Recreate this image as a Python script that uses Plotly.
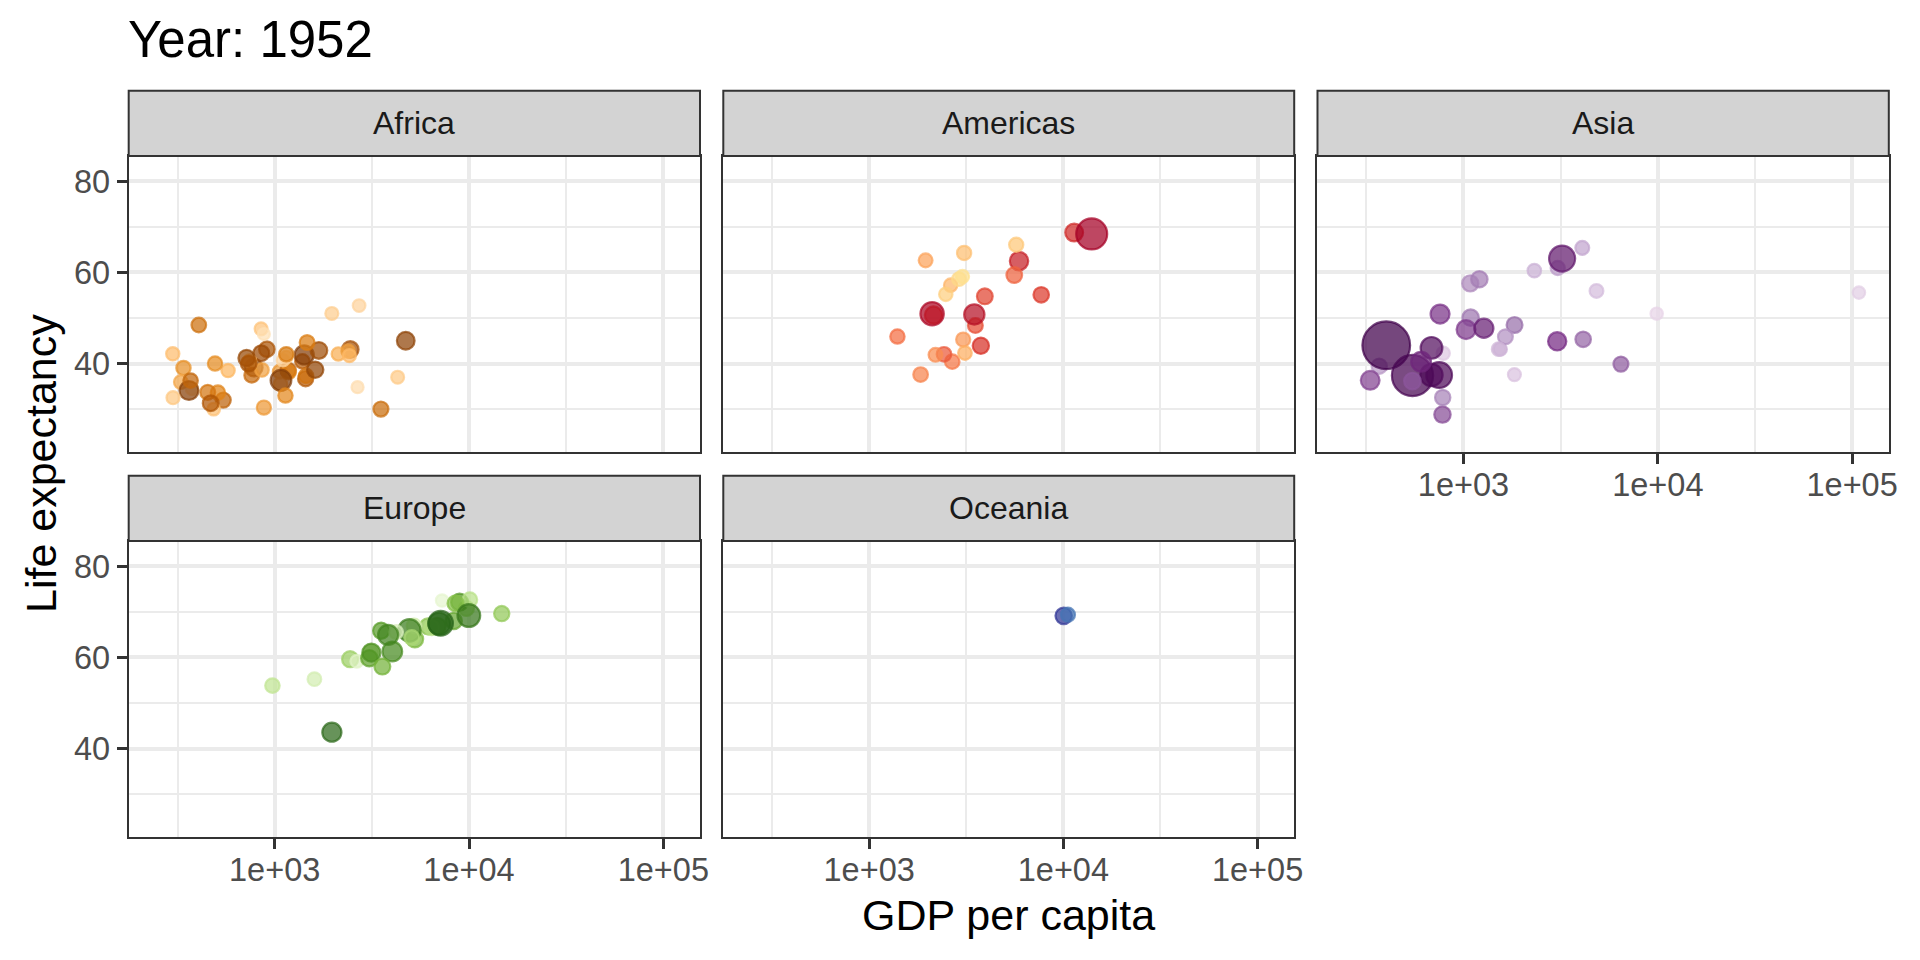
import re
import math
import plotly.graph_objects as go
from plotly.colors import sample_colorscale

# ---------------- data: gapminder, year 1952 (countries in data order) ----------------
africa_country = ["Algeria", "Angola", "Benin", "Botswana", "Burkina Faso", "Burundi", "Cameroon",
                  "Central African Republic", "Chad", "Comoros", "Congo, Dem. Rep.", "Congo, Rep.",
                  "Cote d'Ivoire", "Djibouti", "Egypt", "Equatorial Guinea", "Eritrea", "Ethiopia", "Gabon",
                  "Gambia", "Ghana", "Guinea", "Guinea-Bissau", "Kenya", "Lesotho", "Liberia", "Libya",
                  "Madagascar", "Malawi", "Mali", "Mauritania", "Mauritius", "Morocco", "Mozambique",
                  "Namibia", "Niger", "Nigeria", "Reunion", "Rwanda", "Sao Tome and Principe", "Senegal",
                  "Sierra Leone", "Somalia", "South Africa", "Sudan", "Swaziland", "Tanzania", "Togo",
                  "Tunisia", "Uganda", "Zambia", "Zimbabwe"]
africa_gdp = [2449.008, 3520.610, 1062.752, 851.241, 543.255, 339.296, 1172.668, 1071.311, 1178.666,
              1102.991, 780.542, 2125.622, 1388.595, 2669.530, 1418.822, 375.643, 328.941, 362.146,
              4293.476, 485.231, 911.299, 510.196, 299.850, 853.541, 298.846, 575.572, 2387.548,
              1443.012, 369.165, 452.336, 743.116, 1967.956, 1688.204, 468.526, 2423.780, 761.879,
              1077.282, 2718.885, 493.324, 879.584, 1450.357, 879.788, 1135.750, 4725.296, 1615.991,
              1148.377, 716.650, 859.809, 1468.476, 734.753, 1147.389, 406.884]
africa_life = [43.077, 30.015, 38.223, 47.622, 31.975, 39.031, 38.523, 35.463, 38.092, 40.715, 39.143,
               42.111, 40.477, 34.812, 41.893, 34.482, 35.928, 34.078, 37.003, 30.000, 43.149, 33.609,
               32.500, 42.270, 42.138, 38.480, 42.723, 36.681, 36.256, 33.685, 40.543, 50.986, 42.873,
               31.286, 41.725, 37.444, 36.324, 52.724, 40.000, 46.471, 37.278, 30.331, 32.978, 45.009,
               38.635, 41.407, 41.215, 38.596, 44.600, 39.978, 42.038, 48.451]
africa_pop = [9279525, 4232095, 1738315, 442308, 4469979, 2445618, 5009067, 1291695, 2682462, 153936,
              14100005, 854885, 2977019, 63149, 22223309, 216964, 1438760, 20860941, 420702, 284320,
              5581001, 2664249, 580653, 6464046, 748747, 863308, 1019729, 4762912, 2917802, 3838168,
              1022556, 516556, 9939217, 6446316, 485831, 3379468, 33119096, 257700, 2534927, 60011,
              2755589, 2143249, 2526994, 14264935, 8504667, 290243, 8322925, 1219113, 3647735, 5824797,
              2672000, 3080907]
# colour order of the country palette (largest 2007 population first)
africa_palette_order = ["Nigeria", "Egypt", "Ethiopia", "Congo, Dem. Rep.", "South Africa", "Sudan",
                        "Tanzania", "Kenya", "Morocco", "Algeria", "Uganda", "Ghana", "Mozambique",
                        "Madagascar", "Cote d'Ivoire", "Cameroon", "Burkina Faso", "Malawi", "Niger",
                        "Angola", "Zimbabwe", "Senegal", "Mali", "Zambia", "Tunisia", "Chad", "Guinea",
                        "Somalia", "Rwanda", "Burundi", "Benin", "Sierra Leone", "Libya", "Togo", "Eritrea",
                        "Central African Republic", "Congo, Rep.", "Mauritania", "Liberia", "Namibia",
                        "Lesotho", "Gambia", "Botswana", "Guinea-Bissau", "Gabon", "Mauritius", "Swaziland",
                        "Reunion", "Comoros", "Equatorial Guinea", "Djibouti", "Sao Tome and Principe"]

americas_country = ["Argentina", "Bolivia", "Brazil", "Canada", "Chile", "Colombia", "Costa Rica", "Cuba",
                    "Dominican Republic", "Ecuador", "El Salvador", "Guatemala", "Haiti", "Honduras",
                    "Jamaica", "Mexico", "Nicaragua", "Panama", "Paraguay", "Peru", "Puerto Rico",
                    "Trinidad and Tobago", "United States", "Uruguay", "Venezuela"]
americas_gdp = [5911.315, 2677.326, 2108.944, 11367.161, 3939.979, 2144.115, 2627.009, 5586.539, 1397.717,
                3522.111, 3048.303, 2428.238, 1840.367, 2194.926, 2898.531, 3478.126, 3112.364, 2480.380,
                1952.309, 3758.523, 3081.960, 3023.272, 13990.482, 5716.767, 7689.800]
americas_life = [62.485, 40.414, 50.917, 68.750, 54.745, 50.643, 57.206, 59.421, 45.928, 48.357, 45.262,
                 42.023, 37.579, 41.912, 58.530, 50.789, 42.314, 55.191, 62.649, 43.902, 64.280, 59.100,
                 68.440, 66.071, 55.088]
americas_pop = [17876956, 2883315, 56602560, 14785584, 6377619, 12350771, 926317, 6007797, 2491346,
                3548753, 2042865, 3146381, 3201488, 1517453, 1426095, 30144317, 1165790, 940080, 1555876,
                8025700, 2227000, 662850, 157553000, 2252965, 5439568]
americas_palette_order = ["United States", "Brazil", "Mexico", "Colombia", "Argentina", "Canada", "Peru",
                          "Venezuela", "Chile", "Ecuador", "Guatemala", "Cuba", "Dominican Republic",
                          "Bolivia", "Haiti", "Honduras", "El Salvador", "Paraguay", "Nicaragua",
                          "Costa Rica", "Puerto Rico", "Uruguay", "Panama", "Jamaica", "Trinidad and Tobago"]

asia_country = ["Afghanistan", "Bahrain", "Bangladesh", "Cambodia", "China", "Hong Kong, China", "India",
                "Indonesia", "Iran", "Iraq", "Israel", "Japan", "Jordan", "Korea, Dem. Rep.", "Korea, Rep.",
                "Kuwait", "Lebanon", "Malaysia", "Mongolia", "Myanmar", "Nepal", "Oman", "Pakistan",
                "Philippines", "Saudi Arabia", "Singapore", "Sri Lanka", "Syria", "Taiwan", "Thailand",
                "Vietnam", "West Bank and Gaza", "Yemen, Rep."]
asia_gdp = [779.445, 9867.085, 684.244, 368.470, 400.449, 3054.421, 546.566, 749.682, 3035.326, 4129.766,
            4086.522, 3216.956, 1546.908, 1088.278, 1030.592, 108382.353, 4834.804, 1831.133, 786.567,
            331.000, 545.866, 1828.230, 684.597, 1272.880, 6459.555, 2315.138, 1083.532, 1643.486,
            1206.947, 757.797, 605.067, 1515.592, 781.718]
asia_life = [28.801, 50.939, 37.484, 39.417, 44.000, 60.960, 37.373, 37.468, 44.869, 45.320, 65.390,
             63.030, 43.158, 50.056, 47.453, 55.565, 55.928, 48.463, 42.244, 36.319, 36.157, 37.578,
             43.436, 47.752, 39.875, 60.396, 57.593, 45.883, 58.500, 50.848, 40.412, 43.160, 32.548]
asia_pop = [8425333, 120447, 46886859, 4693836, 556263527, 2125900, 372000000, 82052000, 17272000,
            5441766, 1620914, 86459025, 607914, 8865488, 20947571, 160000, 1439529, 6748378, 800663,
            20092996, 9182536, 507833, 41346560, 22438691, 4005677, 1127000, 7982342, 3661549, 8550362,
            21289402, 26246839, 1030585, 4963829]
asia_palette_order = ["China", "India", "Indonesia", "Pakistan", "Bangladesh", "Japan", "Philippines",
                      "Vietnam", "Iran", "Thailand", "Korea, Rep.", "Myanmar", "Afghanistan", "Nepal",
                      "Saudi Arabia", "Iraq", "Malaysia", "Korea, Dem. Rep.", "Taiwan", "Yemen, Rep.",
                      "Sri Lanka", "Syria", "Cambodia", "Hong Kong, China", "Israel", "Jordan", "Singapore",
                      "West Bank and Gaza", "Lebanon", "Oman", "Mongolia", "Kuwait", "Bahrain"]

europe_country = ["Albania", "Austria", "Belgium", "Bosnia and Herzegovina", "Bulgaria", "Croatia",
                  "Czech Republic", "Denmark", "Finland", "France", "Germany", "Greece", "Hungary", "Iceland",
                  "Ireland", "Italy", "Montenegro", "Netherlands", "Norway", "Poland", "Portugal", "Romania",
                  "Serbia", "Slovak Republic", "Slovenia", "Spain", "Sweden", "Switzerland", "Turkey",
                  "United Kingdom"]
europe_gdp = [1601.056, 6137.076, 8343.105, 973.533, 2444.287, 3119.237, 6876.140, 9692.385, 6424.519,
              7029.809, 7144.114, 3530.690, 5263.674, 7267.688, 5210.280, 4931.404, 2647.586, 8941.572,
              10095.422, 4029.330, 3068.320, 3144.613, 3581.459, 5074.659, 4215.042, 3834.035, 8527.845,
              14734.233, 1969.101, 9979.508]
europe_life = [55.230, 66.800, 68.000, 53.820, 59.600, 61.210, 66.870, 70.780, 66.550, 67.410, 67.500,
               65.860, 64.030, 72.490, 66.910, 65.940, 59.164, 72.130, 72.670, 61.310, 59.820, 61.050,
               57.996, 64.360, 65.570, 64.940, 71.860, 69.620, 43.585, 69.180]
europe_pop = [1282697, 6927772, 8730405, 2791000, 7274900, 3882229, 9125183, 4334000, 4090500, 42459667,
              69145952, 7733250, 9504000, 147962, 2952156, 47666000, 413834, 10381988, 3327728, 25730551,
              8526050, 16630000, 6860147, 3558137, 1489518, 28549870, 7124673, 4815000, 22235677, 50430000]
europe_palette_order = ["Germany", "Turkey", "France", "United Kingdom", "Italy", "Spain", "Poland",
                        "Romania", "Netherlands", "Greece", "Portugal", "Belgium", "Czech Republic", "Serbia",
                        "Hungary", "Sweden", "Austria", "Switzerland", "Bulgaria", "Denmark",
                        "Slovak Republic", "Finland", "Norway", "Bosnia and Herzegovina", "Croatia",
                        "Ireland", "Albania", "Slovenia", "Montenegro", "Iceland"]

oceania_country = ["Australia", "New Zealand"]
oceania_gdp = [10039.596, 10556.576]
oceania_life = [69.120, 69.390]
oceania_pop = [8691212, 1994794]
oceania_palette_order = ["Australia", "New Zealand"]

continents = ["Africa", "Americas", "Asia", "Europe", "Oceania"]

# ---------------- styles ----------------
palettes = {
    "Africa": ["#7F3B08", "#B35806", "#E08214", "#FDB863", "#FEE0B6"],
    "Americas": ["#A50026", "#D73027", "#F46D43", "#FDAE61", "#FEE090"],
    "Asia": ["#40004B", "#762A83", "#9970AB", "#C2A5CF", "#E7D4E8"],
    "Europe": ["#276419", "#4D9221", "#7FBC41", "#B8E186", "#E6F5D0"],
    "Oceania": ["#313695", "#4575B4"],
}
POP_MIN, POP_MAX = 60011, 1318683096          # size-scale limits (whole animation)
X_RANGE = [2.2487, 5.1887]                      # log10 range incl. expansion
Y_RANGE = [20.649, 85.553]
ALPHA = 0.72
RING = 2.2

W, H = 1920, 960
cols = [(129.3, 703.3), (726.7, 1300.3), (1323.7, 1897.7)]
panel_rows = [(156.0, 451.7), (541.0, 836.7)]
strip_rows = [(90.7, 156.0), (475.7, 541.0)]
positions = {"Africa": (0, 0), "Americas": (0, 1), "Asia": (0, 2), "Europe": (1, 0), "Oceania": (1, 1)}

data = {
    "Africa": (africa_country, africa_gdp, africa_life, africa_pop, africa_palette_order),
    "Americas": (americas_country, americas_gdp, americas_life, americas_pop, americas_palette_order),
    "Asia": (asia_country, asia_gdp, asia_life, asia_pop, asia_palette_order),
    "Europe": (europe_country, europe_gdp, europe_life, europe_pop, europe_palette_order),
    "Oceania": (oceania_country, oceania_gdp, oceania_life, oceania_pop, oceania_palette_order),
}

FONT = "Liberation Sans, Arial, Helvetica, sans-serif"
GRID = "#EBEBEB"
DARK = "#333333"
TICK_SIZE = 32.5
STRIP_SIZE = 32


def ramp(colors, n):
    if n == 1:
        return [colors[0]]
    scale = [[i / (len(colors) - 1), c] for i, c in enumerate(colors)]
    out = sample_colorscale(scale, [i / (n - 1) for i in range(n)], colortype="rgb")
    res = []
    for s in out:
        r, g, b = [int(round(float(v))) for v in re.findall(r"[\d.]+", s)[:3]]
        res.append((r, g, b))
    return res


def size_of(p):
    s = 2 + 10 * math.sqrt((p - POP_MIN) / (POP_MAX - POP_MIN))
    return 5.5 * s + 3.2 - RING


fig = go.Figure()
layout = dict(
    width=W, height=H, margin=dict(l=0, r=0, t=0, b=0),
    paper_bgcolor="white", plot_bgcolor="white",
    font=dict(family=FONT, color="#4D4D4D"),
    showlegend=False, shapes=[], annotations=[],
)

for i, cont in enumerate(continents, start=1):
    countries, gdp, life, pop, order = data[cont]
    r, c = positions[cont]
    pal = ramp(palettes[cont], len(order))
    cols_rgba = []
    for name in countries:
        rgb = pal[order.index(name)]
        cols_rgba.append("rgba(%d,%d,%d,%.2f)" % (rgb + (ALPHA,)))
    sfx = "" if i == 1 else str(i)
    fig.add_trace(go.Scatter(
        x=gdp, y=life, mode="markers", text=countries, hoverinfo="text",
        marker=dict(size=[size_of(p) for p in pop], sizemode="diameter", color=cols_rgba,
                    opacity=1, line=dict(color=cols_rgba, width=RING)),
        xaxis="x" + sfx, yaxis="y" + sfx, showlegend=False,
    ))
    x0, x1 = cols[c]
    py0, py1 = panel_rows[r]
    show_x = (r == 1) or (cont == "Asia")
    show_y = (c == 0)
    layout["xaxis" + sfx] = dict(
        domain=[x0 / W, x1 / W], anchor="y" + sfx, type="log", range=X_RANGE,
        tickvals=[1e3, 1e4, 1e5], ticktext=["1e+03", "1e+04", "1e+05"],
        showgrid=True, gridcolor=GRID, gridwidth=3.5,
        minor=dict(tickvals=[10 ** 2.5, 10 ** 3.5, 10 ** 4.5], showgrid=True, gridcolor=GRID,
                   gridwidth=1.8, ticks=""),
        showline=True, mirror=True, linecolor=DARK, linewidth=2, zeroline=False,
        ticks="outside" if show_x else "", ticklen=10, tickwidth=2.5, tickcolor=DARK,
        ticklabelstandoff=-7,
        showticklabels=show_x, tickfont=dict(size=TICK_SIZE, color="#4D4D4D", family=FONT),
    )
    layout["yaxis" + sfx] = dict(
        domain=[1 - py1 / H, 1 - py0 / H], anchor="x" + sfx, range=Y_RANGE,
        tickvals=[40, 60, 80], ticktext=["40", "60", "80"],
        showgrid=True, gridcolor=GRID, gridwidth=3.5,
        minor=dict(tickvals=[30, 50, 70], showgrid=True, gridcolor=GRID, gridwidth=1.8, ticks=""),
        showline=True, mirror=True, linecolor=DARK, linewidth=2, zeroline=False,
        ticks="outside" if show_y else "", ticklen=10, tickwidth=2.5, tickcolor=DARK,
        showticklabels=show_y, tickfont=dict(size=TICK_SIZE, color="#4D4D4D", family=FONT),
    )
    s0, s1 = strip_rows[r]
    layout["shapes"].append(dict(
        type="rect", xref="paper", yref="paper", x0=x0 / W, x1=x1 / W,
        y0=1 - s1 / H, y1=1 - s0 / H, fillcolor="#D3D3D3", line=dict(color=DARK, width=2),
    ))
    layout["annotations"].append(dict(
        text=cont, xref="paper", yref="paper", x=(x0 + x1) / 2 / W, y=1 - (s0 + s1) / 2 / H,
        xanchor="center", yanchor="middle", showarrow=False,
        font=dict(size=STRIP_SIZE, color="#1A1A1A", family=FONT),
    ))

layout["annotations"] += [
    dict(text="Year: 1952", xref="paper", yref="paper", x=127 / W, y=1 - 40 / H,
         xanchor="left", yanchor="middle", showarrow=False, font=dict(size=51, color="black", family=FONT)),
    dict(text="GDP per capita", xref="paper", yref="paper", x=1013.5 / W, y=1 - 914.5 / H,
         xanchor="center", yanchor="middle", showarrow=False, font=dict(size=43, color="black", family=FONT)),
    dict(text="Life expectancy", xref="paper", yref="paper", x=40.5 / W, y=1 - 463.7 / H,
         xanchor="center", yanchor="middle", textangle=-90, showarrow=False,
         font=dict(size=43, color="black", family=FONT)),
]

fig.update_layout(**layout)
fig.write_html("out.html", config={"displayModeBar": False},
               post_script="document.body.style.margin='0';")
